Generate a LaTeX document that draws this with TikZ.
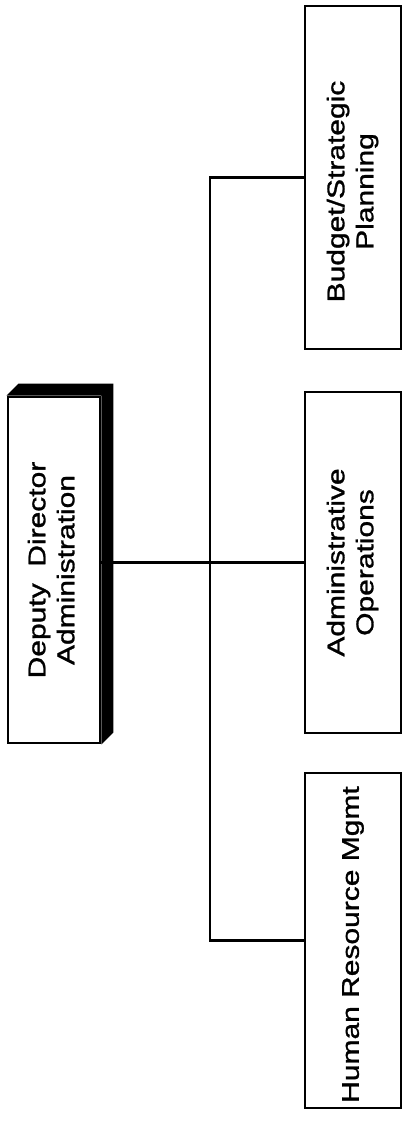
\documentclass[tikz,border=0pt]{standalone}
\usepackage{fontspec}
\newfontfamily\orgfont[FakeStretch=1.24,FakeBold=1.2]{Liberation Sans}
\usepackage{tikz}
\pgfdeclarelayer{bg}
\pgfsetlayers{bg,main}
\tikzset{
  unitbox/.style={draw, line width=2pt, fill=white, inner sep=0pt,
    minimum width=2.4cm, font=\orgfont\fontsize{17.2}{20.6}\selectfont},
  link/.style={line width=2pt}
}
% text reads upwards; the optional space pushes it down the page
\newcommand{\uptext}[2][0pt]{\rotatebox{90}{\begin{tabular}{@{}c@{}}#2\end{tabular}\hspace*{#1}}}

\begin{document}
\begin{tikzpicture}
        \useasboundingbox (0cm, 0cm) rectangle (10.225000cm, -28.025000cm);
        \node (dd) [unitbox, minimum width=2.3cm, minimum height=8.65cm] at (1.350000cm, -14.250000cm) {\uptext{Deputy\ \ Director\\Administration}};
        \node (bp) [unitbox, minimum height=8.575cm] at (8.825000cm, -4.437500cm) {\uptext[0.7cm]{Budget/Strategic\\Planning}};
        \node (ao) [unitbox, minimum height=8.525cm] at (8.825000cm, -14.062500cm) {\uptext{Administrative\\Operations}};
        \node (hr) [unitbox, minimum height=8.375cm] at (8.825000cm, -23.512500cm) {\uptext[0.2cm]{Human Resource Mgmt}};
        \coordinate (bus) at (5.250000cm, -14.062500cm);
        \begin{pgfonlayer}{bg}
                \fill (dd.north west) -- ([shift={(0.3cm,0.3cm)}]dd.north west) -- ([shift={(0.3cm,0.3cm)}]dd.north east)
                        -- ([shift={(0.3cm,0.3cm)}]dd.south east) -- (dd.south east) -- (dd.north east) -- cycle;
                \draw [link] (dd.east |- ao.west) -- (ao.west);
                \draw [link] (bp.west) -| (bus) |- (hr.west);
        \end{pgfonlayer}
\end{tikzpicture}
\end{document}
